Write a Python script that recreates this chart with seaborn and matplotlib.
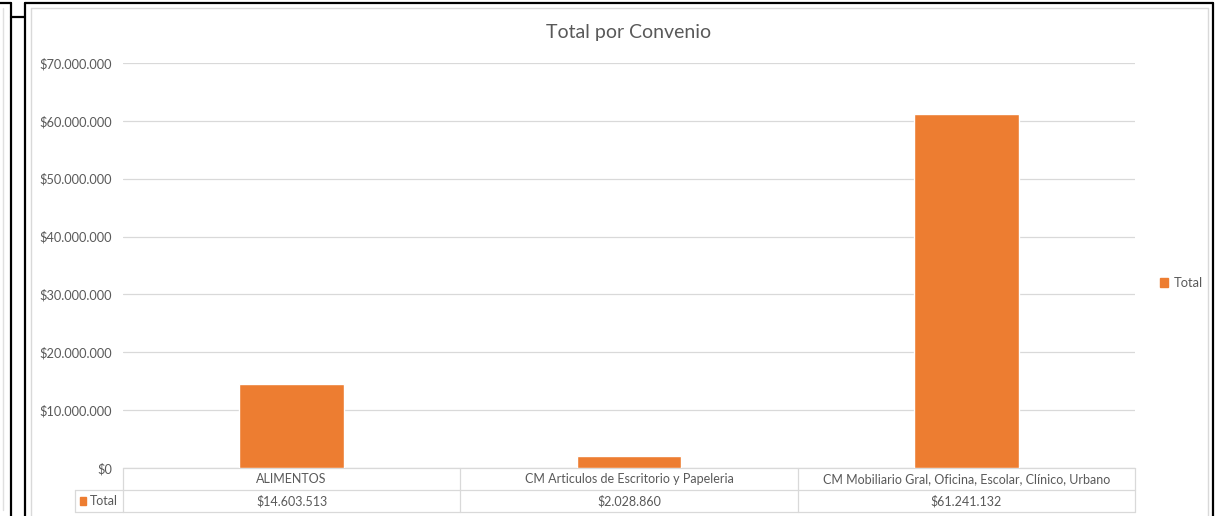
import numpy as np
import pandas as pd
import matplotlib
matplotlib.use('Agg')
import matplotlib.pyplot as plt
import seaborn as sns
from matplotlib.lines import Line2D
from matplotlib.patches import Rectangle
import matplotlib.transforms as mtransforms

sns.set_style('white')
plt.rcParams['font.family'] = ['Lato', 'DejaVu Sans']

# datos
convenios = ['ALIMENTOS',
             'CM Articulos de Escritorio y Papeleria',
             'CM Mobiliario Gral, Oficina, Escolar, Clínico, Urbano']
totales = [14603513, 2028860, 61241132]
totales_txt = ['$14.603.513', '$2.028.860', '$61.241.132']
serie = 'Total'
yticks = [0, 10000000, 20000000, 30000000, 40000000, 50000000, 60000000, 70000000]

df = pd.DataFrame({'convenio': convenios, 'total': totales})

naranja = '#ED7D31'
gris_txt = '#595959'
gris_lin = '#D9D9D9'

W, H = 1228, 516
fig = plt.figure(figsize=(W / 100, H / 100), dpi=100)

def px(x, y):
    return x / W, 1 - y / H

# marco de la hoja (bordes negros de la captura)
def linea(x0, y0, x1, y1, color='black', lw=1.6):
    a, b = px(x0, y0)
    c, d = px(x1, y1)
    fig.add_artist(Line2D([a, c], [b, d], transform=fig.transFigure, color=color, lw=lw))

linea(0, 3, 11, 3)
linea(11, 3, 11, 516)
linea(11, 17, 25, 17)
linea(25, 3, 25, 516)
linea(25, 3, 1213, 3)
linea(1213, 3, 1213, 516)
linea(3, 8, 3, 510, color='#E0E0E0', lw=1)
linea(31, 8, 31, 516, color='#D9D9D9', lw=1)
linea(31, 8, 1208, 8, color='#D9D9D9', lw=1)
linea(1208, 8, 1208, 516, color='#D9D9D9', lw=1)

l, t = px(123, 63)
r, b = px(1135, 468)
ax = fig.add_axes([l, b, r - l, t - b])

sns.barplot(data=df, x='convenio', y='total', color=naranja, width=0.31,
            saturation=1, ax=ax, zorder=3)
ax.set_ylim(0, 70000000)
ax.set_xlim(-0.5, 2.5)
ax.set_yticks(yticks)
ax.set_yticklabels(['$' + f'{v:,}'.replace(',', '.') for v in yticks],
                   fontsize=9.2, color=gris_txt)
ax.tick_params(axis='y', length=0, pad=8)
ax.set_xticks([])
ax.set_xlabel('')
ax.set_ylabel('')
ax.grid(axis='y', color=gris_lin, lw=0.9, zorder=0)
for s in ax.spines.values():
    s.set_visible(False)

ax.set_title('Total por Convenio', fontsize=14, color=gris_txt, pad=18)

# tabla de datos debajo del grafico
trans = mtransforms.blended_transform_factory(ax.transData, ax.transAxes)
fila = 22 / 405
x_lbl = (75 - 123) / 1012
for yy in [0, -fila, -2 * fila]:
    ax.add_line(Line2D([-0.5, 2.5], [yy, yy], transform=trans, color=gris_lin,
                       lw=0.9, clip_on=False))
for xx in [-0.5, 0.5, 1.5, 2.5]:
    ax.add_line(Line2D([xx, xx], [0, -2 * fila], transform=trans, color=gris_lin,
                       lw=0.9, clip_on=False))
ax.add_line(Line2D([x_lbl, 0], [-fila, -fila], transform=ax.transAxes, color=gris_lin,
                   lw=0.9, clip_on=False))
ax.add_line(Line2D([x_lbl, 0], [-2 * fila, -2 * fila], transform=ax.transAxes,
                   color=gris_lin, lw=0.9, clip_on=False))
ax.add_line(Line2D([x_lbl, x_lbl], [-fila, -2 * fila], transform=ax.transAxes,
                   color=gris_lin, lw=0.9, clip_on=False))

for i, (c, v) in enumerate(zip(convenios, totales_txt)):
    ax.text(i, -fila / 2, c, transform=trans, ha='center', va='center',
            fontsize=9, color=gris_txt, clip_on=False)
    ax.text(i, -1.5 * fila, v, transform=trans, ha='center', va='center',
            fontsize=9, color=gris_txt, clip_on=False)

ax.add_patch(Rectangle((x_lbl + 0.0050, -1.5 * fila - 0.009), 0.0062, 0.018,
                       transform=ax.transAxes, color=naranja, clip_on=False))
ax.text(x_lbl + 0.0150, -1.5 * fila, serie, transform=ax.transAxes, ha='left',
        va='center', fontsize=9, color=gris_txt, clip_on=False)

# leyenda a la derecha
ax.legend(handles=[Rectangle((0, 0), 1, 1, color=naranja)], labels=[serie],
          loc='center left', bbox_to_anchor=(1.013, 0.457), frameon=False,
          fontsize=9.3, handlelength=0.65, handleheight=0.65, handletextpad=0.4,
          labelcolor=gris_txt)

plt.savefig('out.png', dpi=100)
